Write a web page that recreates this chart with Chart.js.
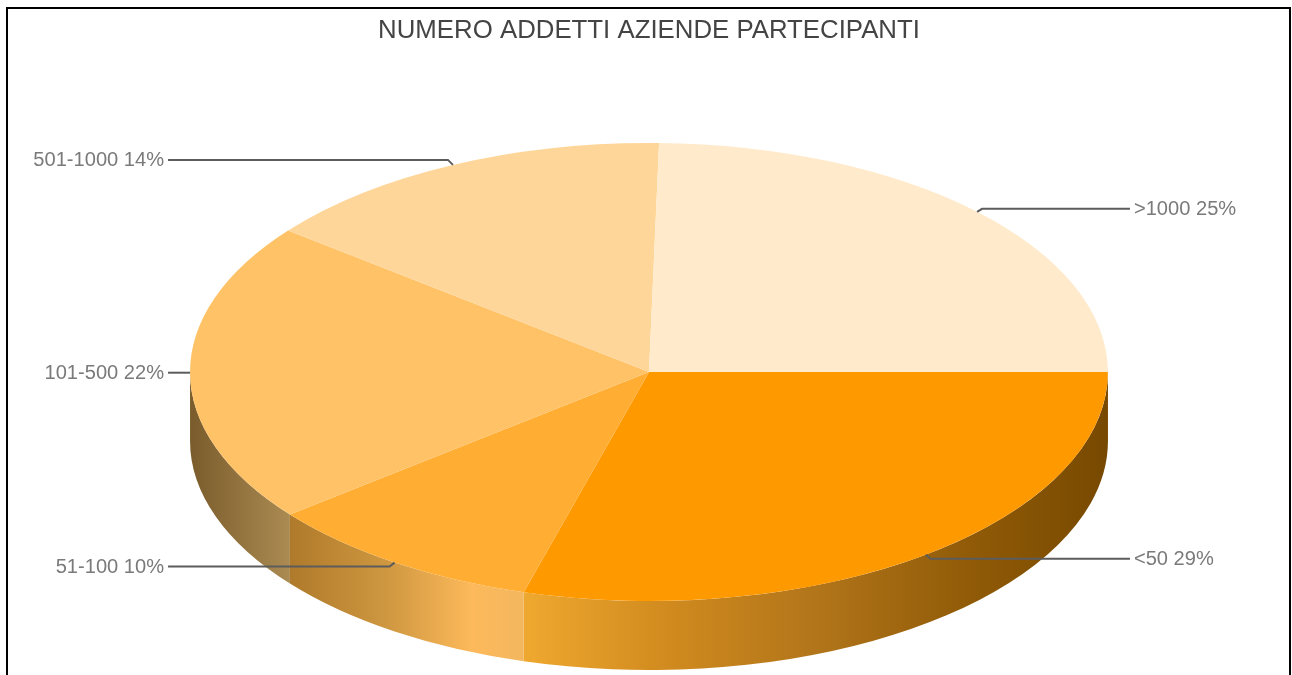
<!DOCTYPE html>
<html>
<head>
<meta charset="utf-8">
<title>Numero addetti aziende partecipanti</title>
<script src="https://cdn.jsdelivr.net/npm/chart.js@4/dist/chart.umd.min.js"></script>
<style>
  html, body { margin: 0; padding: 0; background: #fff; overflow: hidden; }
  #chart { display: block; filter: blur(0.5px); }
  #frame { position: absolute; left: 6px; top: 7px; width: 1281px; height: 700px; border: 2px solid #000; pointer-events: none; }
</style>
</head>
<body>
<canvas id="chart" width="1292" height="675"></canvas>
<div id="frame"></div>
<script>
var categories = ["<50", "51-100", "101-500", "501-1000", ">1000"];
var shares = [29.4, 9.9, 21.3, 14.75, 24.65];
var percents = ["29%", "10%", "22%", "14%", "25%"];

var topColors = ["#FF9900", "#FFAD33", "#FFC266", "#FFD699", "#FFEBCC"];
var wallStops = [
  [[0, "#EFA82F"], [0.25, "#D08A1E"], [0.5, "#B2751A"], [0.75, "#925C08"], [1, "#774900"]],
  [[0, "#AF7A2B"], [0.4, "#CD963F"], [0.78, "#FDB95B"], [1, "#F3B75F"]],
  [[0, "#7A5C2C"], [1, "#AB8B52"]],
  [],
  []
];

var squash = 2.004; // pie is laid out as a circle and stretched sideways
var depth = 69;

function drawWalls(chart) {
  var ctx = chart.ctx;
  var arcs = chart.getDatasetMeta(0).data;
  arcs.forEach(function (arc, i) {
    // only the front half of the rim shows
    var a0 = Math.max(arc.startAngle, 0);
    var a1 = Math.min(arc.endAngle, Math.PI);
    if (a1 <= a0 || !wallStops[i].length) return;
    var rx = arc.outerRadius * squash;
    var ry = arc.outerRadius;
    var x0 = arc.x + rx * Math.cos(a1);
    var x1 = arc.x + rx * Math.cos(a0);
    var grad = ctx.createLinearGradient(x0, 0, x1, 0);
    wallStops[i].forEach(function (s) { grad.addColorStop(s[0], s[1]); });
    ctx.beginPath();
    ctx.ellipse(arc.x, arc.y, rx, ry, 0, a0, a1);
    ctx.ellipse(arc.x, arc.y + depth, rx, ry, 0, a1, a0, true);
    ctx.closePath();
    ctx.fillStyle = grad;
    ctx.fill();
  });
}

function drawLeaders(chart) {
  var ctx = chart.ctx;
  var arcs = chart.getDatasetMeta(0).data;
  ctx.save();
  ctx.font = "20.1px 'Liberation Sans'";
  ctx.textBaseline = "middle";
  arcs.forEach(function (arc, i) {
    var mid = (arc.startAngle + arc.endAngle) / 2;
    var rx = arc.outerRadius * squash;
    var ax = arc.x + rx * Math.cos(mid);
    var ay = arc.y + arc.outerRadius * Math.sin(mid);
    var right = Math.cos(mid) > 0;
    var ly = ay + Math.round(Math.sin(mid) * 5);
    var lx = arc.x + (right ? rx + 22 : -rx - 22);
    ctx.beginPath();
    ctx.moveTo(ax, ay);
    ctx.lineTo(ax + (right ? 5 : -5), ly);
    ctx.lineTo(lx, ly);
    ctx.strokeStyle = "#5c5c5c";
    ctx.lineWidth = 2;
    ctx.stroke();
    ctx.fillStyle = "#7a7a7a";
    ctx.textAlign = right ? "left" : "right";
    ctx.fillText(categories[i] + " " + percents[i], lx + (right ? 4 : -4), ly + 1);
  });
  ctx.restore();
}

var pie3d = {
  id: "pie3d",
  beforeDatasetsDraw: function (chart) {
    var ctx = chart.ctx;
    var arc = chart.getDatasetMeta(0).data[0];
    drawWalls(chart);
    ctx.save();
    ctx.translate(arc.x, 0);
    ctx.scale(squash, 1);
    ctx.translate(-arc.x, 0);
  },
  afterDatasetsDraw: function (chart) {
    chart.ctx.restore();
    drawLeaders(chart);
  }
};

new Chart(document.getElementById("chart"), {
  type: "doughnut",
  plugins: [pie3d],
  data: {
    labels: categories,
    datasets: [{
      data: shares,
      backgroundColor: topColors,
      borderWidth: 0,
      clip: false
    }]
  },
  options: {
    responsive: false,
    animation: false,
    cutout: 0,
    rotation: 90,
    layout: { padding: { left: 6, right: 0, top: 0, bottom: 74 } },
    plugins: {
      legend: { display: false },
      tooltip: { enabled: false },
      title: {
        display: true,
        text: "NUMERO ADDETTI AZIENDE PARTECIPANTI",
        color: "#444",
        font: { family: "'Liberation Sans'", size: 25.8, weight: "normal" },
        padding: { top: 15.5, bottom: 96.5 }
      }
    }
  }
});
</script>
</body>
</html>
